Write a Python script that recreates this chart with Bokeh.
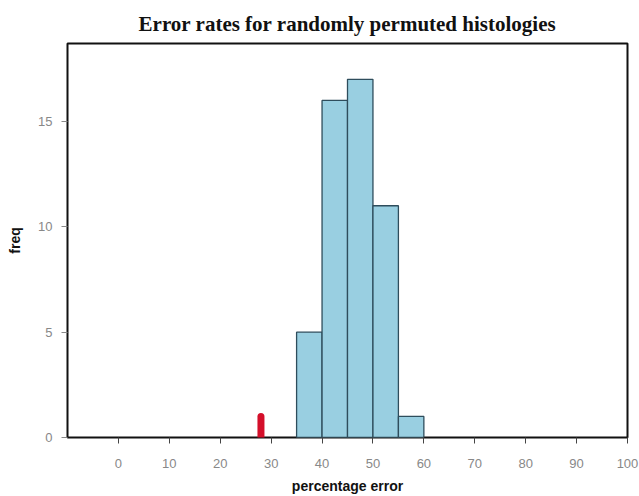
from bokeh.plotting import figure
from bokeh.models import FixedTicker, Range1d
from bokeh.embed import file_html
from bokeh.resources import INLINE

# Histogram of error rates for randomly permuted histologies
bin_left = [35, 40, 45, 50, 55]
bin_right = [40, 45, 50, 55, 60]
freq = [5, 16, 17, 11, 1]

# observed error (red mark)
observed_error = [28]
observed_freq = [1]

x_ticks = [0, 10, 20, 30, 40, 50, 60, 70, 80, 90, 100]
y_ticks = [0, 5, 10, 15]

p = figure(width=639, height=496, output_backend="svg", toolbar_location=None,
           x_range=Range1d(-10, 100), y_range=Range1d(0, 18.7),
           min_border_left=67, min_border_right=12, min_border_top=43, min_border_bottom=57,
           title="Error rates for randomly permuted histologies")

p.quad(left=bin_left, right=bin_right, bottom=0, top=freq,
       fill_color="#99cfe1", line_color="#2e4d5c", line_width=1.3)
p.segment(x0=observed_error, y0=0, x1=observed_error, y1=observed_freq,
          line_color="#d40f2a", line_width=7, line_cap="round")

p.title.text_font = "Liberation Serif"
p.title.text_font_style = "bold"
p.title.text_font_size = "21px"
p.title.align = "center"
p.title.text_color = "#111111"
p.title.standoff = 16

p.xgrid.visible = False
p.ygrid.visible = False
p.outline_line_color = "#111111"
p.outline_line_width = 2
p.background_fill_color = "white"
p.border_fill_color = "white"

p.xaxis.ticker = FixedTicker(ticks=x_ticks)
p.yaxis.ticker = FixedTicker(ticks=y_ticks)
for ax in (p.xaxis[0], p.yaxis[0]):
    ax.axis_line_color = None
    ax.minor_tick_line_color = None
    ax.major_tick_in = 0
    ax.major_tick_out = 6
    ax.major_label_text_font = "Liberation Sans"
    ax.major_label_text_font_size = "13px"
    ax.major_label_text_color = "#888888"
    ax.axis_label_text_font = "Liberation Sans"
    ax.axis_label_text_font_style = "bold"
    ax.axis_label_text_font_size = "14px"
    ax.axis_label_text_color = "#111111"

p.xaxis.axis_label = "percentage error"
p.yaxis.axis_label = "freq"
p.xaxis.major_tick_line_color = "#444444"
p.yaxis.major_tick_line_color = "#888888"
p.xaxis.major_label_standoff = 15
p.yaxis.major_label_standoff = 9
p.xaxis.axis_label_standoff = 7
p.yaxis.axis_label_standoff = 12

open("out.html", "w").write(file_html(p, INLINE))
